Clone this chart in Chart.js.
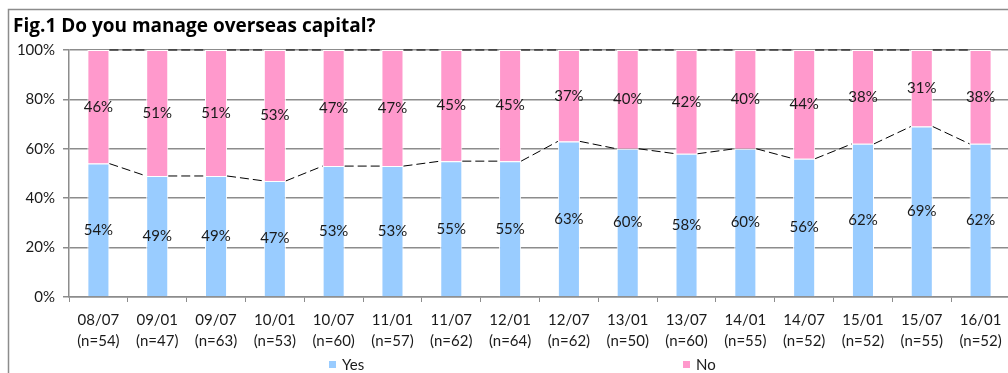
<!DOCTYPE html>
<html>
<head>
<meta charset="utf-8">
<script src="https://cdn.jsdelivr.net/npm/chart.js@4/dist/chart.umd.min.js"></script>
<style>
  html, body { margin: 0; padding: 0; background: #fff; overflow: hidden; }
  #wrap { position: absolute; left: 0; top: 0; width: 1020px; height: 373px; }
</style>
</head>
<body>
<div id="wrap"><canvas id="capitalChart" width="1020" height="373"></canvas></div>
<script>
const periods = ['08/07', '09/01', '09/07', '10/01', '10/07', '11/01', '11/07', '12/01',
                 '12/07', '13/01', '13/07', '14/01', '14/07', '15/01', '15/07', '16/01'];
const sampleSizes = [54, 47, 63, 53, 60, 57, 62, 64, 62, 50, 60, 55, 52, 52, 55, 52];
const yesValues = [54, 49, 49, 47, 53, 53, 55, 55, 63, 60, 58, 60, 56, 62, 69, 62];
const noValues = [46, 51, 51, 53, 47, 47, 45, 45, 37, 40, 42, 40, 44, 38, 31, 38];
const yTicks = [0, 20, 40, 60, 80, 100];

const FONT = 'Lato, "Open Sans", sans-serif';
const GRID = '#8c8c8c';

const labels = periods.map((p, i) => [p, '(n=' + sampleSizes[i] + ')']);

// frame + title
const framePlugin = {
    id: 'frame',
    beforeDraw(chart) {
        const ctx = chart.ctx;
        ctx.save();
        ctx.strokeStyle = GRID;
        ctx.lineWidth = 1.5;
        ctx.beginPath();
        ctx.moveTo(8.5, chart.height + 5);
        ctx.lineTo(8.5, 9.5);
        ctx.lineTo(chart.width + 5, 9.5);
        ctx.stroke();
        ctx.fillStyle = '#000';
        ctx.font = 'bold 19px "Open Sans", sans-serif';
        ctx.textBaseline = 'alphabetic';
        ctx.fillText('Fig.1 Do you manage overseas capital?', 13, 32);
        ctx.restore();
    }
};

// dashed lines joining the tops of neighbouring bars
const seriesLines = {
    id: 'seriesLines',
    afterDatasetsDraw(chart) {
        const ctx = chart.ctx;
        ctx.save();
        ctx.strokeStyle = '#000';
        ctx.lineWidth = 1;
        ctx.setLineDash([9, 4]);
        chart.data.datasets.forEach((ds, d) => {
            const bars = chart.getDatasetMeta(d).data;
            for (let i = 0; i < bars.length - 1; i++) {
                const a = bars[i], b = bars[i + 1];
                ctx.beginPath();
                ctx.moveTo(a.x + a.width / 2, a.y);
                ctx.lineTo(b.x - b.width / 2, b.y);
                ctx.stroke();
            }
        });
        ctx.restore();
    }
};

// percentage labels in the middle of each segment
const valueLabels = {
    id: 'valueLabels',
    afterDatasetsDraw(chart) {
        const ctx = chart.ctx;
        ctx.save();
        ctx.font = '15px ' + FONT;
        ctx.fillStyle = '#1a1a1a';
        ctx.textAlign = 'center';
        ctx.textBaseline = 'middle';
        chart.data.datasets.forEach((ds, d) => {
            chart.getDatasetMeta(d).data.forEach((bar, i) => {
                ctx.fillText(ds.data[i] + '%', bar.x, (bar.y + bar.base) / 2);
            });
        });
        ctx.restore();
    }
};

// legend under the axis labels
const bottomLegend = {
    id: 'bottomLegend',
    afterDraw(chart) {
        const ctx = chart.ctx;
        const items = [[0, 328], [1, 682]];
        ctx.save();
        ctx.font = '15px ' + FONT;
        ctx.textBaseline = 'middle';
        items.forEach(([d, x]) => {
            const ds = chart.data.datasets[d];
            ctx.fillStyle = ds.backgroundColor;
            ctx.fillRect(x, 360, 9, 9);
            ctx.strokeStyle = '#fff';
            ctx.lineWidth = 1;
            ctx.strokeRect(x + 0.5, 360.5, 8, 8);
            ctx.fillStyle = '#1a1a1a';
            ctx.fillText(ds.label, x + 14, 365);
        });
        ctx.restore();
    }
};

new Chart(document.getElementById('capitalChart'), {
    type: 'bar',
    data: {
        labels: labels,
        datasets: [
            { label: 'Yes', data: yesValues, backgroundColor: '#99ccff', borderColor: '#ffffff', borderWidth: 1,
              categoryPercentage: 1, barPercentage: 0.375 },
            { label: 'No', data: noValues, backgroundColor: '#ff99cc', borderColor: '#ffffff', borderWidth: 1,
              categoryPercentage: 1, barPercentage: 0.375 }
        ]
    },
    options: {
        responsive: false,
        animation: false,
        devicePixelRatio: 1,
        layout: { padding: { left: 8, top: 50, right: 10, bottom: 20 } },
        plugins: { legend: { display: false }, tooltip: { enabled: false } },
        scales: {
            x: {
                stacked: true,
                grid: { offset: true, drawOnChartArea: false, color: GRID, tickLength: 5 },
                border: { color: GRID, width: 1.5 },
                ticks: { color: '#1a1a1a', font: { family: FONT, size: 15, lineHeight: 1.4 }, padding: 8,
                         maxRotation: 0, autoSkip: false },
                afterFit(scale) { scale.height = 56; }
            },
            y: {
                stacked: true,
                min: 0,
                max: 100,
                afterBuildTicks(scale) { scale.ticks = yTicks.map(v => ({ value: v })); },
                grid: { color: GRID, lineWidth: 1.5, tickLength: 6 },
                border: { color: GRID, width: 1.5 },
                ticks: { color: '#1a1a1a', font: { family: FONT, size: 15 }, padding: 8,
                         callback: v => v + '%' },
                afterFit(scale) { scale.width = 61; }
            }
        }
    },
    plugins: [framePlugin, seriesLines, valueLabels, bottomLegend]
});
</script>
</body>
</html>
